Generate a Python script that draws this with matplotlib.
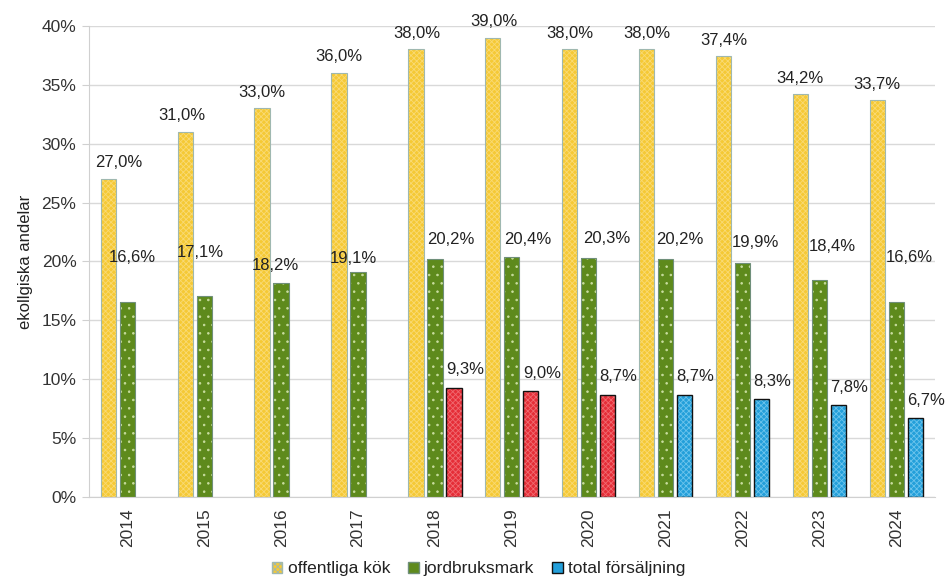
import numpy as np
import matplotlib.pyplot as plt
from matplotlib.patches import Patch

plt.rcParams['font.family'] = ['Liberation Sans', 'DejaVu Sans']
plt.rcParams['hatch.linewidth'] = 0.6

years = ["2014", "2015", "2016", "2017", "2018", "2019", "2020", "2021", "2022", "2023", "2024"]
offentliga = [27.0, 31.0, 33.0, 36.0, 38.0, 39.0, 38.0, 38.0, 37.4, 34.2, 33.7]
jordbruk = [16.6, 17.1, 18.2, 19.1, 20.2, 20.4, 20.3, 20.2, 19.9, 18.4, 16.6]
total = [np.nan, np.nan, np.nan, np.nan, 9.3, 9.0, 8.7, 8.7, 8.3, 7.8, 6.7]
# years where total försäljning is drawn red (older method)
red_years = ["2018", "2019", "2020"]

# label nudges in pixels (dx, dy above bar top)
green_dx = [5, -4, -6, -5, 16, 16, 18, 14, 13, 13, 13]
green_dy = [44, 43, 17, 14, 20, 17, 19, 20, 20, 34, 44]
yellow_dx = [10, -3, 0, 0, 1, 1, 0, 0, 0, 0, 0]

fig = plt.figure(figsize=(9.46, 5.85), dpi=100)
ax = fig.add_axes([0.094, 0.150, 0.894, 0.806])

x = np.arange(len(years))
w = 0.2
step = 0.247

yellow = "#F5C935"
green = "#5E8A1C"
red = "#E52E38"
blue = "#239FDA"


def hatched(xpos, vals, face, hatch_col, hatch, edge, lw):
    ax.bar(xpos, vals, w, color=face, edgecolor=hatch_col, hatch=hatch, linewidth=0, zorder=2)
    ax.bar(xpos, vals, w, fill=False, edgecolor=edge, linewidth=lw, zorder=3)


hatched(x - step, offentliga, yellow, "#F9DA74", "xxxxxx", "#9FB8B0", 0.8)
hatched(x, jordbruk, green, "#C9DDA0", "..", "#6F8F7A", 0.8)

tot = np.array(total)
is_red = np.array([y in red_years for y in years])
blue_vals = np.where(is_red, np.nan, tot)
red_vals = np.where(is_red, tot, np.nan)
hatched(x + step, red_vals, red, "#F06A70", "xxxxxx", "#111111", 1.0)
hatched(x + step, blue_vals, blue, "#6CC4EC", "xxxxxx", "#111111", 1.0)


def fmt(v):
    return f"{v:.1f}".replace(".", ",") + "%"


lab = dict(fontsize=12, color="#222222", ha="center", va="center",
           textcoords="offset pixels")
for i in range(len(years)):
    ax.annotate(fmt(offentliga[i]), (x[i] - step, offentliga[i]),
                xytext=(yellow_dx[i], 16), **lab)
    ax.annotate(fmt(jordbruk[i]), (x[i], jordbruk[i]),
                xytext=(green_dx[i], green_dy[i]), **lab)
    if not np.isnan(tot[i]):
        ax.annotate(fmt(tot[i]), (x[i] + step, tot[i]),
                    xytext=(11, 18), **lab)

ax.set_xlim(-0.5, len(years) - 0.5)
ax.set_ylim(0, 40)
ax.set_yticks(np.arange(0, 41, 5))
ax.set_yticklabels([f"{t}%" for t in range(0, 41, 5)])
ax.set_xticks(x)
ax.set_xticklabels(years, rotation=90)
ax.tick_params(axis="x", length=0, labelsize=12.5, colors="#333333", pad=8)
ax.tick_params(axis="y", length=5, width=0.8, color="#D0D0D0", labelsize=12.5,
               labelcolor="#333333", pad=4)
ax.yaxis.grid(True, color="#D9D9D9", linewidth=1)
ax.set_axisbelow(True)
for s in ["top", "right"]:
    ax.spines[s].set_visible(False)
for s in ["left", "bottom"]:
    ax.spines[s].set_color("#D0D0D0")
ax.set_ylabel("ekollgiska andelar", fontsize=12, color="#222222", labelpad=6)

handles = [
    Patch(facecolor=yellow, edgecolor="#9FB8B0", hatch="xxxxxx", label="offentliga kök"),
    Patch(facecolor=green, edgecolor="#6F8F7A", label="jordbruksmark"),
    Patch(facecolor=blue, edgecolor="#111111", label="total försäljning"),
]
fig.legend(handles=handles, loc="lower center", bbox_to_anchor=(0.506, -0.012), ncol=3,
           frameon=False, fontsize=12.5, handlelength=0.6, handleheight=0.6,
           handletextpad=0.3, columnspacing=1.05, labelcolor="#222222")

fig.savefig("out.png", dpi=100)
